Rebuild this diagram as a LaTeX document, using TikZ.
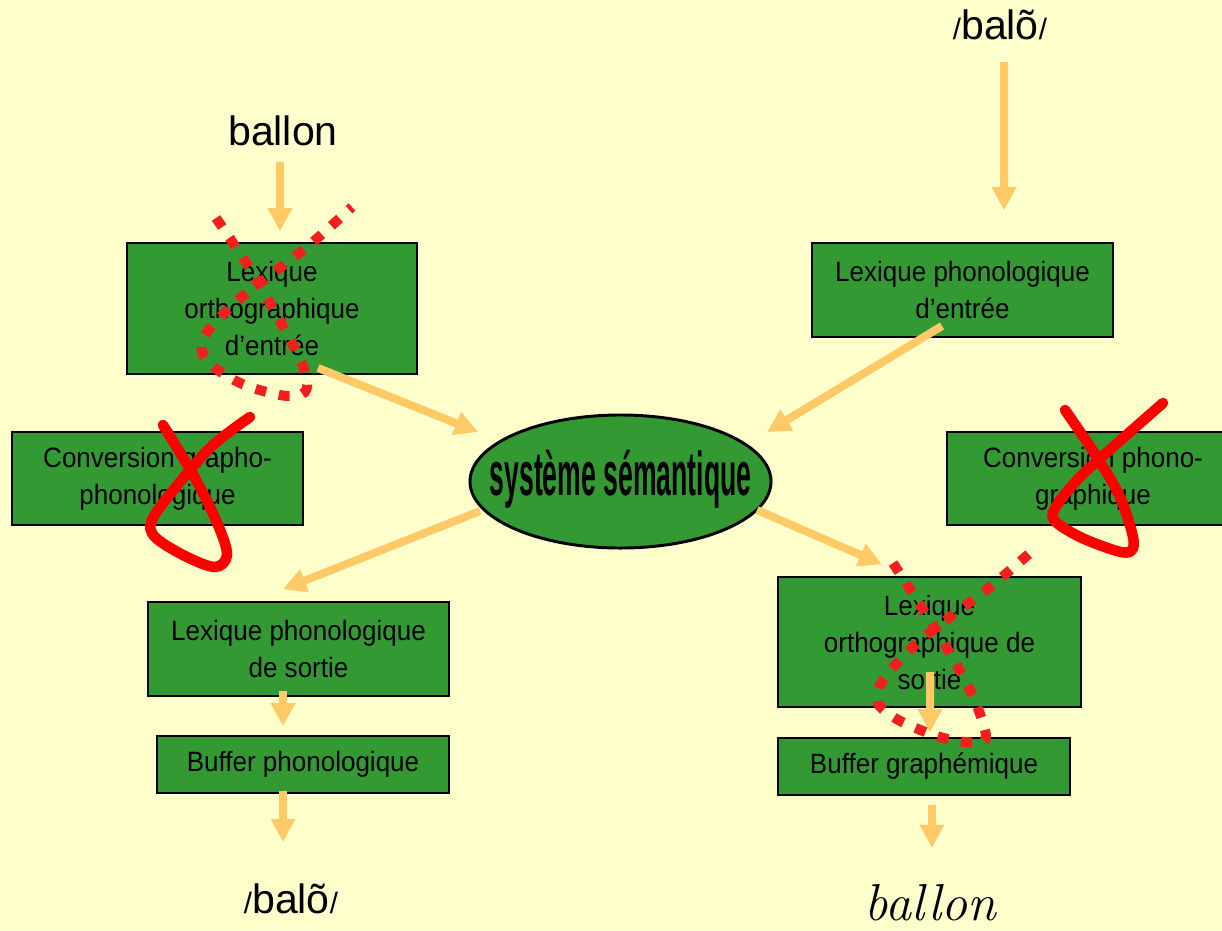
\documentclass[tikz,border=0pt]{standalone}
\usepackage{fontspec}
\usetikzlibrary{arrows.meta,shapes.geometric}
\newfontfamily\arial{Liberation Sans}
\newfontfamily\boxfont[FakeStretch=0.93]{Liberation Sans}
\newfontfamily\semfont[FakeStretch=0.43]{Liberation Sans}
\definecolor{bgyellow}{HTML}{FFFFCC}
\definecolor{boxgreen}{HTML}{339933}
\definecolor{arrowc}{HTML}{FFC966}
\definecolor{crossred}{HTML}{FF0000}
\definecolor{dotred}{HTML}{F51E1E}
\begin{document}
\begin{tikzpicture}[x=0.025cm,y=-0.025cm,
  box/.style={draw=black,line width=1pt,fill=boxgreen,inner sep=0pt,align=center,
    font={\boxfont\fontsize{19.9}{26.3}\selectfont}},
  arr/.style={draw=arrowc,line width=5.7pt,-{Triangle[width=16.5pt,length=16.5pt]}},
  wordtxt/.style={anchor=base,inner sep=0pt,font={\arial\fontsize{29.2}{30}\selectfont}},
  solidx/.style={draw=crossred,line width=7.5pt,line cap=round,line join=round},
  dotx/.style={draw=dotred,line width=7.1pt,line cap=butt,dash pattern=on 7.8pt off 9.2pt}]
\fill[bgyellow] (0,0) rectangle (1222,930);
\useasboundingbox (0,0) rectangle (1222,930);

% nodes
\node[box,minimum width=7.25cm,minimum height=3.275cm] (lexoe) at (272,308.5) {Lexique\\orthographique\\d’entrée};
\node[box,minimum width=7.525cm,minimum height=2.35cm] (lexpe) at (962.5,290) {Lexique phonologique\\d’entrée};
\node[box,minimum width=7.275cm,minimum height=2.325cm] (convgp) at (157.5,478.5) {Conversion grapho-\\phonologique};
\node[box,minimum width=7.3cm,minimum height=2.325cm] (convpg) at (1093,478.5) {Conversion phono-\\graphique};
\node[draw=black,line width=2.1pt,fill=boxgreen,ellipse,inner sep=0pt,minimum width=7.525cm,minimum height=3.325cm] (sem) at (620.5,481.5) {};
\node[inner sep=0pt,font={\semfont\bfseries\fontsize{44}{44}\selectfont}] (semtxt) at ([shift={(0,-2)}]sem.center) {système sémantique};
\node[box,minimum width=7.525cm,minimum height=2.35cm] (lexps) at (298.5,649) {Lexique phonologique\\de sortie};
\node[box,minimum width=7.3cm,minimum height=1.425cm] (bufph) at (303,764.5) {Buffer phonologique};
\node[box,minimum width=7.575cm,minimum height=3.25cm] (lexos) at (929.5,642) {Lexique\\orthographique de\\sortie};
\node[box,minimum width=7.3cm,minimum height=1.425cm] (bufgr) at (924,766.5) {Buffer graphémique};

\node[wordtxt] (tball) at (283,145) {ballon};
\node[wordtxt] (ttop) at (1000,39) {{\fontsize{21}{21}\selectfont/}balõ{\fontsize{21}{21}\selectfont/}};
\node[wordtxt] (tbot) at (291,913) {{\fontsize{21}{21}\selectfont/}balõ{\fontsize{21}{21}\selectfont/}};
\node[anchor=base,inner sep=0pt,font={\itshape\fontsize{37}{37}\selectfont}] (tballit) at (930,920) {ballon};

% arrows
\draw[arr] ([shift={(-3,17)}]tball.base) -- ([shift={(8,-11)}]lexoe.north);
\draw[arr] ([shift={(4,23)}]ttop.base) -- ([shift={(41.5,-32)}]lexpe.north);
\draw[arr] ([shift={(46,59.5)}]lexoe.center) -- ([shift={(-142.5,-49.5)}]sem.center);
\draw[arr] ([shift={(-20.5,36)}]lexpe.center) -- ([shift={(146.5,-49.5)}]sem.center);
\draw[arr] ([shift={(-140.5,29.5)}]sem.center) -- ([shift={(-15.5,-12)}]lexps.north);
\draw[arr] ([shift={(136.5,28.5)}]sem.center) -- ([shift={(-47.5,-12)}]lexos.north);
\draw[arr] ([shift={(-15.5,-6)}]lexps.south) -- ([shift={(-20,-9)}]bufph.north);
\draw[arr] ([shift={(-20,-3)}]bufph.south) -- ([shift={(-8,-71)}]tbot.base);
\draw[arr] ([shift={(0.5,30)}]lexos.center) -- ([shift={(6,-5)}]bufgr.north);
\draw[arr] ([shift={(8,9)}]bufgr.south) -- ([shift={(2,-72)}]tballit.base);

% solid crosses
\draw[solidx] plot[smooth,tension=0.55] coordinates {(163,425) (195,478) (218,525) (227,555) (215,567) (185,556) (155,537) (152,520) (175,488) (212,446) (250,417)};
\draw[solidx] plot[smooth,tension=0.55] coordinates {(1065,410) (1097,457) (1120,497) (1133,537) (1131,551) (1117,551) (1080,537) (1054,520) (1057,505) (1080,477) (1113,447) (1163,403)};

% dotted crosses
\draw[dotx] plot[smooth,tension=0.55] coordinates {(216,218) (245,261) (270,303) (293,345) (306,375) (305,392) (288,396) (263,391) (240,383) (215,368) (202,352) (207,332) (238,300) (277,270) (313,242) (352,207)};
\draw[dotx] plot[smooth,tension=0.55] coordinates {(893,563) (922,608) (947,648) (970,690) (982,720) (985,740) (965,742) (940,737) (918,729) (895,718) (878,703) (883,680) (915,645) (950,617) (990,587) (1030,553)};
\end{tikzpicture}
\end{document}
